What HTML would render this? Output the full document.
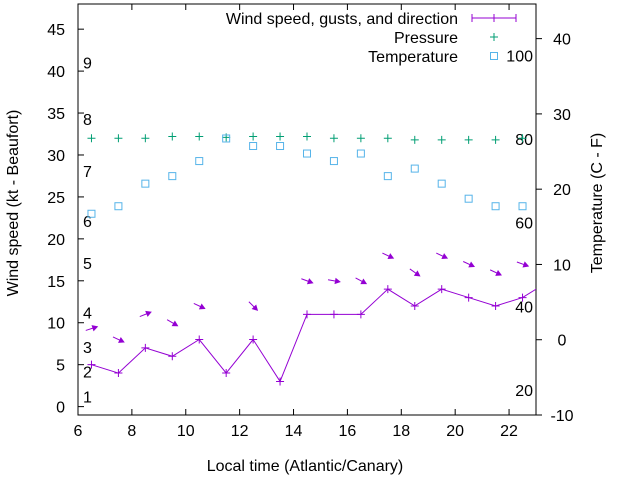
<!DOCTYPE html>
<html><head><meta charset="utf-8"><style>
body{margin:0;background:#fff}
svg{display:block;font-family:"Liberation Sans",Arial,sans-serif}
</style></head><body>
<svg width="640" height="480" viewBox="0 0 640 480">
<g id="g"></g>
</svg>
<script>
const hours=[6.5,7.5,8.5,9.5,10.5,11.5,12.5,13.5,14.5,15.5,16.5,17.5,18.5,19.5,20.5,21.5,22.5,23.5];
const windSpeed=[5,4,7,6,8,4,8,3,11,11,11,14,12,14,13,12,13,15];
const gusts=[9.3,8,11,10,12,null,12,null,15,15,15,18,16,18,17,16,17,null];
const windAngle=[-18,25,-22,30,25,null,45,null,20,10,28,25,35,25,25,25,20,null];
const pressure=[32,32,32,32.2,32.2,32.1,32.2,32.2,32.2,32,32,32,31.8,31.8,31.8,31.8,32];
const temperature=[17,18,21,22,24,27,26,26,25,24,25,22,23,21,19,18,18];
const xTicks=[6,8,10,12,14,16,18,20,22];
const yTicks=[0,5,10,15,20,25,30,35,40,45];
const y2Ticks=[-10,0,10,20,30,40];
const beaufort=[1,2,3,4,5,6,7,8,9];
const beaufortKt=[1.2,4.2,7.1,11.2,17.1,22.1,28.1,34.3,41];
const fahrenheit=[20,40,60,80,100];

const L=78,R=536,T=4,B=415;
const X=v=>L+(v-6)/(23-6)*(R-L);
const Y=v=>B-(v+1)/(48+1)*(B-T);
const Y2=v=>B-(v+10)/(44.6+10)*(B-T);
const g=document.getElementById('g');
const NS='http://www.w3.org/2000/svg';
function mk(tag,attrs,txt){const e=document.createElementNS(NS,tag);for(const k in attrs)e.setAttribute(k,attrs[k]);if(txt!=null)e.textContent=txt;g.appendChild(e);return e;}
const PUR='#9400d3',GRN='#009e73',BLU='#56b4e9';
const FS=16;

const cp=mk('clipPath',{id:'clip'});
const cr=document.createElementNS(NS,'rect');cr.setAttribute('x',L);cr.setAttribute('y',T);cr.setAttribute('width',R-L);cr.setAttribute('height',B-T);cp.appendChild(cr);

xTicks.forEach(v=>{
  let t=mk('path',{d:`M${X(v)},${B}v-6M${X(v)},${T}v6`,stroke:'#000'});
  
  
  let l=mk('text',{x:X(v),y:B+21,'text-anchor':'middle','font-size':FS},v);
  
  
});
yTicks.forEach(v=>{
  let t=mk('path',{d:`M${L},${Y(v)}h6`,stroke:'#000'});
  
  
  let l=mk('text',{x:L-13,y:Y(v)+6,'text-anchor':'end','font-size':FS},v);
  
  
});
y2Ticks.forEach(v=>{
  let t=mk('path',{d:`M${R},${Y2(v)}h6`,stroke:'#000'});
  
  
  let l=mk('text',{x:R+26,y:Y2(v)+6,'text-anchor':'middle','font-size':FS},v);
  
  
});
beaufort.forEach((b,i)=>{
  let l=mk('text',{x:83,y:Y(beaufortKt[i])+6,'font-size':FS},b);
  
  
});
fahrenheit.forEach(f=>{
  let l=mk('text',{x:533,y:Y2((f-32)*5/9)+6,'text-anchor':'end','font-size':FS},f);
  
  
});
let frame=mk('rect',{x:L,y:T,width:R-L,height:B-T,fill:'none',stroke:'#000'});



const plot=mk('g',{'clip-path':'url(#clip)'});
function add(parent,tag,attrs){const e=document.createElementNS(NS,tag);for(const k in attrs)e.setAttribute(k,attrs[k]);parent.appendChild(e);return e;}
let wl=add(plot,'polyline',{points:hours.map((h,i)=>X(h)+','+Y(windSpeed[i])).join(' '),fill:'none',stroke:PUR});


hours.forEach((h,i)=>{
  let p=add(plot,'path',{d:`M${X(h)-4},${Y(windSpeed[i])}h8M${X(h)},${Y(windSpeed[i])-4}v8`,stroke:PUR});
  
  
});
hours.forEach((h,i)=>{
  if(gusts[i]==null)return;
  const cx=X(h),cy=Y(gusts[i]),a=windAngle[i]*Math.PI/180,len=12;
  const dx=Math.cos(a)*len/2,dy=Math.sin(a)*len/2;
  const x2=cx+dx,y2=cy+dy,hl=5,ha=0.5;
  const p1=[x2-hl*Math.cos(a-ha),y2-hl*Math.sin(a-ha)],p2=[x2-hl*Math.cos(a+ha),y2-hl*Math.sin(a+ha)];
  let ar=add(plot,'path',{d:`M${cx-dx},${cy-dy}L${x2},${y2}M${x2},${y2}L${p1}L${p2}Z`,stroke:PUR,fill:PUR});
  
  
});
pressure.forEach((v,i)=>{
  const x=X(hours[i]),y=Y(v);
  let p=add(plot,'path',{d:`M${x-4},${y}h8M${x},${y-4}v8`,stroke:GRN});
  
  
});
temperature.forEach((v,i)=>{
  const x=X(hours[i]),y=Y2(v)+2;
  let p=add(plot,'rect',{x:x-3.5,y:y-3.5,width:7,height:7,fill:'none',stroke:BLU});
  
  
});

let lg=[['Wind speed, gusts, and direction',18],['Pressure',37],['Temperature',56]];
lg.forEach(([t,y])=>{
  let l=mk('text',{x:458,y:y+6,'text-anchor':'end','font-size':FS},t);
  
  
});
let s1=mk('path',{d:'M472,18h44M472,14v8M494,14v8M516,14v8',stroke:PUR});


let s2=mk('path',{d:'M490,37h8M494,33v8',stroke:GRN});


let s3=mk('rect',{x:490.5,y:52.5,width:7,height:7,fill:'none',stroke:BLU});



let xt=mk('text',{x:305,y:471,'text-anchor':'middle','font-size':FS},'Local time (Atlantic/Canary)');


let yt=mk('text',{x:18,y:203,'text-anchor':'middle','font-size':FS,transform:'rotate(-90 18 203)'},'Wind speed (kt - Beaufort)');


let y2t=mk('text',{x:602,y:203,'text-anchor':'middle','font-size':FS,transform:'rotate(-90 602 203)'},'Temperature (C - F)');


</script>
</body></html>
